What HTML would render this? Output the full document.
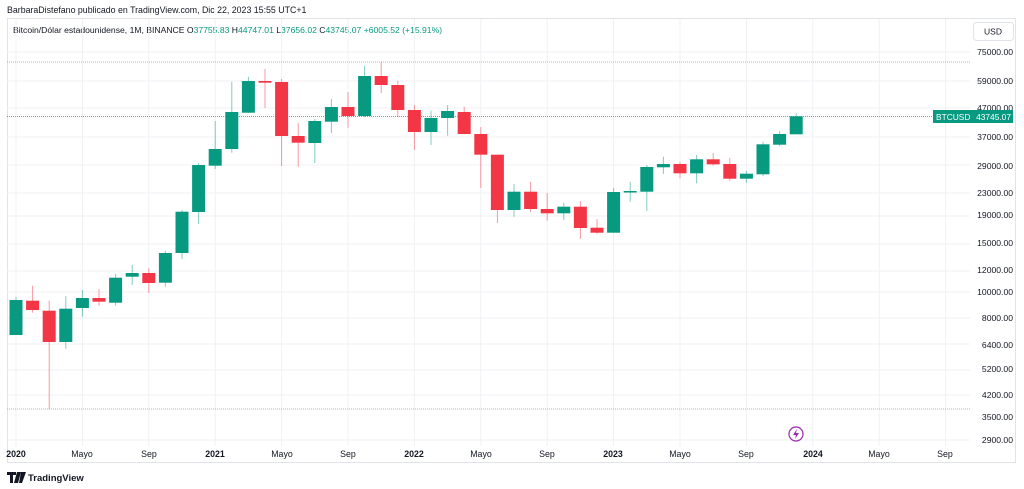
<!DOCTYPE html>
<html><head><meta charset="utf-8"><style>
body{margin:0;width:1024px;height:489px;background:#fff;overflow:hidden;font-family:"Liberation Sans",sans-serif}
svg{position:absolute;left:0;top:0}
</style></head><body>
<svg width="1024" height="489" xmlns="http://www.w3.org/2000/svg" font-family="Liberation Sans, sans-serif">
<text x="7" y="13" font-size="8.8" fill="#131722">BarbaraDistefano publicado en TradingView.com, Dic 22, 2023 15:55 UTC+1</text>
<rect x="7.5" y="18.5" width="1008" height="444" fill="none" stroke="#e0e3eb"/>
<text x="13" y="33" font-size="8.6" fill="#131722">Bitcoin/Dólar estadounidense, 1M, BINANCE <tspan fill="#131722">O</tspan><tspan fill="#089981">37755.83</tspan> <tspan fill="#131722">H</tspan><tspan fill="#089981">44747.01</tspan> <tspan fill="#131722">L</tspan><tspan fill="#089981">37656.02</tspan> <tspan fill="#131722">C</tspan><tspan fill="#089981">43745.07</tspan> <tspan fill="#089981">+6005.52 (+15.91%)</tspan></text>
<g id="grid" stroke="#f0f1f4" stroke-width="1"></g>
<line x1="7" y1="62" x2="970" y2="62" stroke="#b2b5be" stroke-dasharray="1,1"/>
<line x1="7" y1="409" x2="970" y2="409" stroke="#b2b5be" stroke-dasharray="1,1"/>
<line x1="7" y1="116.5" x2="933" y2="116.5" stroke="#089981" stroke-opacity="0.7" stroke-dasharray="1,1"/>
<g id="c"></g>
<rect x="973.5" y="22.5" width="40" height="18" rx="3" fill="#fff" stroke="#e0e3eb"/>
<text x="993" y="34.5" font-size="8.5" fill="#131722" text-anchor="middle">USD</text>
<g font-size="8.6" fill="#131722" text-anchor="end">
<text x="1013" y="55">75000.00</text><text x="1013" y="84">59000.00</text><text x="1013" y="111">47000.00</text>
<text x="1013" y="140">37000.00</text><text x="1013" y="169">29000.00</text><text x="1013" y="196">23000.00</text>
<text x="1013" y="218">19000.00</text><text x="1013" y="246">15000.00</text><text x="1013" y="273">12000.00</text>
<text x="1013" y="295">10000.00</text><text x="1013" y="321">8000.00</text><text x="1013" y="348">6400.00</text>
<text x="1013" y="372">5200.00</text><text x="1013" y="398">4200.00</text><text x="1013" y="420">3500.00</text>
<text x="1013" y="443">2900.00</text></g>
<rect x="933" y="110" width="80" height="13" fill="#089981"/>
<text x="936" y="120" font-size="8.4" fill="#fff">BTCUSD</text>
<text x="1011" y="120" font-size="8.4" fill="#fff" text-anchor="end">43745.07</text>
<circle cx="796" cy="434" r="7" fill="none" stroke="#9c27b0" stroke-width="1.2"/>
<path d="M797 429 L793 435 L796 435 L795 439 L799 433 L796 433 Z" fill="#9c27b0"/>
<g font-size="8.8" fill="#131722" text-anchor="middle">
<text x="16" y="457" font-weight="bold">2020</text><text x="82" y="457">Mayo</text><text x="149" y="457">Sep</text>
<text x="215" y="457" font-weight="bold">2021</text><text x="282" y="457">Mayo</text><text x="348" y="457">Sep</text>
<text x="414" y="457" font-weight="bold">2022</text><text x="481" y="457">Mayo</text><text x="547" y="457">Sep</text>
<text x="613" y="457" font-weight="bold">2023</text><text x="680" y="457">Mayo</text><text x="746" y="457">Sep</text>
<text x="813" y="457" font-weight="bold">2024</text><text x="879" y="457">Mayo</text><text x="945" y="457">Sep</text></g>
<path d="M7 472 h9 v3 h-3 v8 h-3 v-8 h-3z M17 472 h4 l-3 11 h-4z M21 472 h5 l-4 11h-3z" fill="#131722"/>
<text x="28" y="481" font-size="9.5" font-weight="bold" fill="#131722">TradingView</text>
</svg>
<script>
var ns="http://www.w3.org/2000/svg";
var g=document.getElementById('grid');
[52,81,108,137,165,193,216,244,271,292,318,344,370,395,440].forEach(function(y){var l=document.createElementNS(ns,'line');l.setAttribute('x1',7);l.setAttribute('x2',970);l.setAttribute('y1',y);l.setAttribute('y2',y);g.appendChild(l);});
for(var i=0;i<15;i++){var x=16+i*66.4;var l=document.createElementNS(ns,'line');l.setAttribute('x1',x);l.setAttribute('x2',x);l.setAttribute('y1',19);l.setAttribute('y2',446);g.appendChild(l);}
var d=[[1,300,335,297,335],[0,300.7,310,285.7,312.7],[0,310.7,342,300.7,409],[1,308.7,342,296,348.7],[1,298,308,290,316.7],[0,298,301.7,289,305.7],[1,277.7,302.7,274,305.7],[1,273,276.7,265,285],[0,273,283,268,293],[1,253,282.7,250.7,286.7],[1,211.7,253,210,259],[1,165,212,163,224],[1,149,165.7,121,169],[1,112,149,81.7,152.7],[1,81,112.7,76.7,113],[0,81,82.7,69,108],[0,82,136,79,166],[0,136,142.7,123,166.7],[1,121,143,119,163],[1,107,121.7,99,133],[0,107,116,92,127.7],[1,76,116,65.7,117],[0,76,85,61.7,93],[0,85,110,80.7,117],[0,110,132,105,150],[1,118,132,110.7,145],[1,111,118,105,135.7],[0,112,134,106.7,134],[0,134,154.7,127,188],[0,154.7,210,154.7,223],[1,191.7,210,184,216.7],[0,191.7,209,181.7,212],[0,209,213.3,193,220.7],[1,206.7,213.3,203,220],[0,206.7,228,201,239],[0,227.7,232.7,219,234],[1,192,232.7,188,232.7],[1,191,192.3,181.7,201.7],[1,167,191.7,165,211],[1,164,167.3,156.7,174],[0,164,173.3,161.7,178.3],[1,159.3,173.3,155,183.3],[0,159.3,164.3,153,165.7],[0,164,178.7,158,180.7],[1,173.7,178.7,171,182.7],[1,144.3,174.3,141.7,176],[1,134,144.7,131.3,146],[1,116.3,134.3,113.3,134.3]];
var c=document.getElementById('c');
d.forEach(function(v,i){var x=16+i*16.6;var col=v[0]?'#089981':'#F23645';
var w=document.createElementNS(ns,'line');w.setAttribute('x1',x);w.setAttribute('x2',x);w.setAttribute('y1',v[3]);w.setAttribute('y2',v[4]);w.setAttribute('stroke',col);w.setAttribute('stroke-opacity',0.5);c.appendChild(w);
var r=document.createElementNS(ns,'rect');r.setAttribute('x',x-6.5);r.setAttribute('width',13);r.setAttribute('y',v[1]);r.setAttribute('height',Math.max(1.5,v[2]-v[1]));r.setAttribute('fill',col);c.appendChild(r);});
</script>
</body></html>
